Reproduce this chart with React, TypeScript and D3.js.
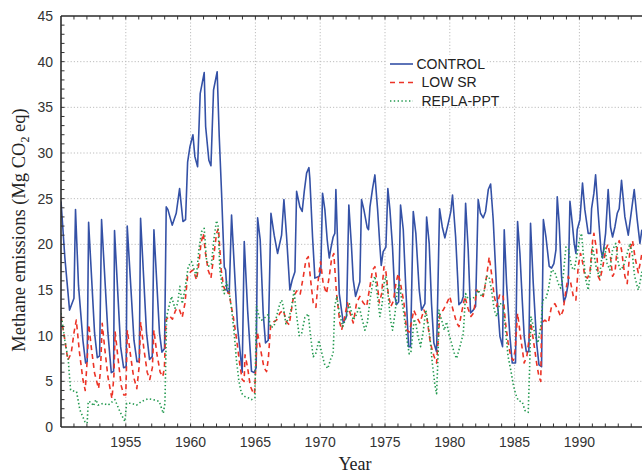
import React from 'react';
import * as d3 from 'd3';

// [year, Mg CO2 eq]
const controlSeries: [number, number][] = [
  [1950.0, 24.7], [1950.3, 18.5], [1950.66, 12.8], [1951.0, 14.1], [1951.12, 23.8], [1951.35, 15.5],
  [1951.69, 9.5], [1951.9, 7.0], [1952.02, 7.15], [1952.13, 22.4], [1952.59, 10.3], [1952.8, 7.6],
  [1952.98, 7.8], [1953.13, 22.7], [1953.62, 10.3], [1953.88, 5.95], [1954.06, 6.1], [1954.13, 21.5],
  [1954.6, 8.8], [1954.83, 6.5], [1955.03, 6.6], [1955.11, 22.0], [1955.63, 9.5], [1955.86, 7.15],
  [1956.04, 7.2], [1956.14, 22.85], [1956.6, 10.3], [1956.83, 7.4], [1957.04, 7.7], [1957.17, 21.6],
  [1957.6, 10.3], [1957.79, 8.2], [1957.99, 8.6], [1958.12, 24.1], [1958.25, 23.8], [1958.58, 22.1],
  [1958.89, 23.4], [1959.15, 26.1], [1959.41, 22.5], [1959.61, 22.7], [1959.77, 29.0], [1959.95, 30.7],
  [1960.18, 32.0], [1960.33, 29.6], [1960.54, 28.5], [1960.74, 36.5], [1961.05, 38.8], [1961.16, 32.9],
  [1961.41, 29.2], [1961.57, 28.6], [1961.77, 36.9], [1962.05, 38.9], [1962.21, 31.8], [1962.39, 25.6],
  [1962.6, 17.5], [1962.7, 17.2], [1962.8, 15.0], [1962.98, 14.6], [1963.16, 23.2], [1963.62, 11.0],
  [1963.98, 6.0], [1964.14, 20.3], [1964.4, 12.8], [1964.7, 6.1], [1964.91, 5.95], [1965.06, 6.5],
  [1965.17, 22.9], [1965.37, 20.5], [1965.6, 12.5], [1965.78, 9.2], [1965.99, 9.5], [1966.2, 23.4],
  [1966.45, 21.0], [1966.71, 19.0], [1967.02, 21.0], [1967.2, 24.9], [1967.4, 21.0], [1967.66, 15.0],
  [1967.84, 16.1], [1968.05, 17.0], [1968.18, 25.8], [1968.43, 24.1], [1968.61, 23.6], [1968.77, 25.8],
  [1968.95, 27.8], [1969.13, 28.4], [1969.2, 27.2], [1969.41, 20.8], [1969.59, 16.3], [1969.93, 16.5],
  [1970.05, 17.2], [1970.18, 25.6], [1970.36, 23.8], [1970.54, 20.5], [1970.7, 18.5], [1970.83, 19.6],
  [1971.0, 20.8], [1971.13, 21.2], [1971.21, 26.0], [1971.47, 14.6], [1971.78, 11.4], [1972.03, 12.1],
  [1972.21, 24.3], [1972.42, 19.6], [1972.55, 16.1], [1972.73, 14.3], [1973.06, 15.9], [1973.19, 24.9],
  [1973.37, 23.8], [1973.63, 21.8], [1973.73, 21.6], [1973.84, 24.1], [1974.04, 26.1], [1974.22, 27.6],
  [1974.43, 23.8], [1974.61, 19.7], [1974.71, 17.7], [1974.86, 19.2], [1975.07, 19.7], [1975.22, 26.1],
  [1975.38, 23.8], [1975.58, 19.7], [1975.76, 14.3], [1975.89, 13.4], [1976.05, 13.7], [1976.2, 24.3],
  [1976.41, 21.6], [1976.61, 15.0], [1976.82, 8.8], [1976.97, 8.8], [1977.18, 23.6], [1977.38, 21.2],
  [1977.64, 15.0], [1977.82, 12.8], [1978.08, 13.5], [1978.21, 23.0], [1978.41, 20.1], [1978.59, 13.5],
  [1978.77, 9.2], [1978.98, 8.25], [1979.21, 23.9], [1979.42, 21.9], [1979.62, 20.7], [1979.88, 22.3],
  [1980.08, 23.6], [1980.21, 25.4], [1980.45, 20.8], [1980.6, 16.5], [1980.7, 13.4], [1980.91, 13.7],
  [1981.04, 14.3], [1981.22, 24.5], [1981.42, 19.4], [1981.6, 12.5], [1981.81, 12.8], [1981.99, 13.2],
  [1982.19, 24.9], [1982.37, 23.4], [1982.58, 22.9], [1982.76, 23.6], [1982.97, 26.0], [1983.15, 26.6],
  [1983.35, 22.7], [1983.61, 15.0], [1983.87, 9.9], [1984.07, 8.8], [1984.2, 21.6], [1984.38, 15.7],
  [1984.64, 9.9], [1984.82, 7.0], [1985.07, 7.0], [1985.23, 22.5], [1985.41, 19.0], [1985.59, 13.9],
  [1985.74, 9.9], [1985.9, 8.25], [1986.1, 8.25], [1986.23, 22.3], [1986.44, 15.7], [1986.7, 9.2],
  [1986.88, 6.8], [1987.08, 6.6], [1987.22, 22.7], [1987.42, 20.8], [1987.67, 17.6], [1987.85, 17.4],
  [1988.03, 17.9], [1988.19, 19.4], [1988.29, 25.2], [1988.44, 22.3], [1988.62, 16.5], [1988.8, 13.7],
  [1988.96, 14.3], [1989.14, 15.7], [1989.27, 24.7], [1989.45, 22.3], [1989.6, 20.1], [1989.73, 19.0],
  [1989.83, 21.6], [1990.04, 22.7], [1990.24, 26.7], [1990.42, 23.8], [1990.68, 21.2], [1990.86, 21.2],
  [1990.94, 23.9], [1991.12, 25.6], [1991.25, 27.6], [1991.45, 23.4], [1991.66, 19.4], [1991.79, 18.5],
  [1992.02, 21.2], [1992.22, 26.0], [1992.4, 21.9], [1992.56, 20.8], [1992.74, 21.9], [1992.92, 23.4],
  [1993.07, 23.9], [1993.25, 27.0], [1993.51, 23.0], [1993.77, 21.0], [1994.03, 23.8], [1994.23, 26.0],
  [1994.46, 22.7], [1994.67, 20.1], [1994.82, 21.6],
];

const lowSrSeries: [number, number][] = [
  [1950.0, 12.1], [1950.3, 9.5], [1950.53, 7.3], [1950.79, 8.1], [1951.0, 10.3], [1951.18, 11.7],
  [1951.43, 8.1], [1951.69, 5.2], [1951.87, 4.0], [1952.02, 7.3], [1952.15, 11.2], [1952.33, 8.8],
  [1952.59, 5.9], [1952.9, 4.2], [1953.05, 6.2], [1953.18, 11.35], [1953.36, 8.8], [1953.62, 5.5],
  [1953.93, 3.1], [1954.08, 5.5], [1954.18, 10.4], [1954.4, 7.5], [1954.65, 4.5], [1954.85, 3.5],
  [1955.0, 3.5], [1955.12, 10.6], [1955.35, 8.0], [1955.6, 5.5], [1955.85, 4.2], [1956.02, 6.5],
  [1956.15, 11.5], [1956.4, 8.5], [1956.65, 6.0], [1956.85, 5.2], [1957.05, 6.5], [1957.17, 10.6],
  [1957.4, 8.0], [1957.65, 6.0], [1957.85, 5.5], [1957.98, 6.5], [1958.1, 11.7], [1958.35, 12.2],
  [1958.6, 11.8], [1958.85, 12.8], [1959.1, 13.0], [1959.35, 12.0], [1959.56, 13.5], [1959.77, 16.5],
  [1960.0, 17.0], [1960.2, 17.2], [1960.46, 16.1], [1960.65, 18.0], [1960.8, 20.1], [1960.98, 21.2],
  [1961.15, 19.0], [1961.35, 17.2], [1961.57, 16.3], [1961.75, 18.3], [1962.0, 21.2], [1962.15, 21.75],
  [1962.36, 17.2], [1962.54, 15.4], [1962.8, 14.6], [1962.98, 14.8], [1963.1, 13.5], [1963.28, 12.2],
  [1963.54, 9.7], [1963.8, 6.8], [1963.98, 5.2], [1964.13, 5.0], [1964.2, 7.9], [1964.4, 6.5],
  [1964.6, 4.5], [1964.78, 3.9], [1964.93, 3.6], [1965.15, 10.4], [1965.4, 8.5], [1965.66, 6.5],
  [1965.86, 6.06], [1966.0, 7.5], [1966.17, 11.0], [1966.4, 11.5], [1966.63, 11.7], [1966.9, 12.5],
  [1967.15, 12.8], [1967.4, 11.5], [1967.61, 11.2], [1967.93, 14.2], [1968.19, 14.9], [1968.45, 14.5],
  [1968.7, 16.5], [1968.9, 18.3], [1969.08, 18.65], [1969.26, 16.1], [1969.46, 13.6], [1969.67, 13.1],
  [1969.85, 16.1], [1970.03, 18.1], [1970.23, 15.7], [1970.49, 14.6], [1970.7, 16.5], [1970.88, 18.4],
  [1971.05, 19.0], [1971.26, 14.6], [1971.52, 11.4], [1971.65, 10.6], [1971.9, 12.1], [1972.1, 13.6],
  [1972.3, 12.5], [1972.55, 11.4], [1972.81, 13.6], [1973.06, 14.3], [1973.32, 13.6], [1973.58, 13.2],
  [1973.84, 15.4], [1974.04, 17.2], [1974.22, 17.55], [1974.4, 15.7], [1974.56, 13.6], [1974.74, 14.6],
  [1974.92, 17.55], [1975.07, 17.0], [1975.25, 14.6], [1975.45, 13.2], [1975.65, 13.8], [1975.84, 15.7],
  [1976.02, 16.8], [1976.2, 15.7], [1976.46, 13.6], [1976.66, 10.6], [1976.87, 10.4], [1977.05, 11.5],
  [1977.22, 12.8], [1977.43, 12.1], [1977.69, 11.4], [1978.0, 12.8], [1978.2, 12.3], [1978.5, 9.2],
  [1978.77, 7.8], [1978.98, 7.0], [1979.1, 9.5], [1979.24, 12.45], [1979.49, 12.8], [1979.75, 13.5],
  [1980.0, 14.3], [1980.25, 12.8], [1980.53, 11.4], [1980.71, 11.0], [1980.95, 12.8], [1981.17, 14.3],
  [1981.4, 13.0], [1981.63, 12.1], [1981.85, 12.5], [1982.07, 15.0], [1982.32, 14.6], [1982.58, 14.3],
  [1982.84, 16.5], [1983.04, 18.6], [1983.22, 16.8], [1983.43, 14.3], [1983.61, 13.2], [1983.87, 14.6],
  [1984.12, 14.3], [1984.3, 11.4], [1984.5, 9.2], [1984.71, 7.7], [1984.9, 7.3], [1985.05, 8.5],
  [1985.23, 12.45], [1985.45, 10.0], [1985.74, 7.0], [1985.95, 7.8], [1986.1, 9.5], [1986.26, 11.4],
  [1986.5, 9.0], [1986.7, 7.0], [1986.88, 5.5], [1987.02, 5.0], [1987.08, 11.4], [1987.34, 11.7],
  [1987.6, 11.4], [1987.85, 13.2], [1988.11, 13.5], [1988.35, 12.8], [1988.55, 12.1], [1988.75, 12.8],
  [1988.96, 15.0], [1989.14, 16.5], [1989.3, 16.0], [1989.53, 14.3], [1989.73, 13.9], [1989.91, 17.6],
  [1990.09, 19.0], [1990.25, 18.0], [1990.42, 16.5], [1990.62, 16.3], [1990.81, 16.9], [1991.02, 20.4],
  [1991.12, 21.2], [1991.33, 19.4], [1991.45, 16.5], [1991.58, 16.1], [1991.8, 17.5], [1992.03, 19.4],
  [1992.2, 20.0], [1992.4, 18.6], [1992.56, 16.5], [1992.75, 17.0], [1992.92, 19.7], [1993.07, 20.4],
  [1993.25, 19.4], [1993.51, 16.5], [1993.69, 15.7], [1993.9, 19.4], [1994.1, 20.4], [1994.3, 18.5],
  [1994.54, 16.9], [1994.7, 18.0], [1994.82, 19.0],
];

const replaPptSeries: [number, number][] = [
  [1950.0, 12.45], [1950.3, 9.5], [1950.56, 7.3], [1950.74, 4.05], [1951.07, 3.9], [1951.2, 3.87],
  [1951.46, 1.86], [1951.84, 0.6], [1952.02, 0.4], [1952.1, 2.8], [1952.35, 2.7], [1952.5, 2.3],
  [1952.69, 3.0], [1952.87, 2.4], [1953.26, 2.6], [1953.64, 2.4], [1954.16, 3.0], [1954.54, 1.7],
  [1954.93, 0.6], [1955.06, 2.6], [1955.4, 2.6], [1955.83, 2.4], [1956.22, 2.8], [1956.73, 3.1],
  [1957.11, 3.0], [1957.58, 2.8], [1957.89, 1.5], [1958.02, 2.6], [1958.15, 12.1], [1958.3, 13.0],
  [1958.53, 14.3], [1958.79, 13.0], [1959.0, 13.5], [1959.17, 15.4], [1959.35, 13.5], [1959.56, 15.0],
  [1959.82, 17.6], [1960.08, 18.1], [1960.28, 17.2], [1960.45, 16.5], [1960.64, 19.4], [1960.85, 21.4],
  [1961.05, 21.75], [1961.23, 18.3], [1961.41, 17.6], [1961.6, 17.8], [1961.82, 20.8], [1962.0, 22.6],
  [1962.12, 22.0], [1962.26, 17.2], [1962.44, 15.4], [1962.6, 14.6], [1962.77, 15.9], [1962.95, 15.0],
  [1963.15, 13.0], [1963.35, 10.5], [1963.54, 7.3], [1963.72, 5.1], [1963.92, 3.7], [1964.18, 3.35],
  [1964.44, 3.2], [1964.7, 3.0], [1964.96, 3.2], [1965.09, 13.2], [1965.3, 12.0], [1965.48, 11.7],
  [1965.75, 12.0], [1965.99, 12.3], [1966.17, 10.9], [1966.43, 11.0], [1966.63, 12.1], [1966.89, 13.5],
  [1967.02, 13.9], [1967.15, 13.2], [1967.35, 11.3], [1967.6, 12.0], [1967.8, 13.2], [1967.98, 14.9],
  [1968.15, 12.5], [1968.38, 10.0], [1968.56, 10.2], [1968.82, 12.0], [1969.08, 12.4], [1969.26, 9.9],
  [1969.46, 7.7], [1969.65, 8.0], [1969.9, 9.5], [1970.07, 8.4], [1970.33, 6.9], [1970.59, 6.4],
  [1970.84, 7.6], [1971.0, 8.0], [1971.12, 13.2], [1971.28, 14.3], [1971.48, 12.5], [1971.74, 11.0],
  [1972.0, 12.0], [1972.26, 13.5], [1972.55, 11.7], [1972.8, 12.3], [1973.01, 13.2], [1973.2, 12.0],
  [1973.45, 10.6], [1973.65, 11.5], [1973.84, 13.9], [1974.04, 15.7], [1974.22, 16.5], [1974.4, 14.6],
  [1974.6, 12.1], [1974.78, 13.5], [1974.92, 15.7], [1975.07, 16.5], [1975.25, 14.3], [1975.43, 11.7],
  [1975.58, 10.6], [1975.78, 12.5], [1975.94, 14.9], [1976.1, 15.7], [1976.28, 14.0], [1976.46, 12.4],
  [1976.66, 9.9], [1976.87, 8.0], [1977.0, 8.2], [1977.12, 9.9], [1977.25, 11.8], [1977.38, 11.3],
  [1977.56, 9.9], [1977.74, 8.8], [1977.95, 10.5], [1978.15, 12.8], [1978.3, 11.5], [1978.46, 9.9],
  [1978.66, 6.9], [1978.84, 4.7], [1978.98, 3.65], [1979.1, 8.0], [1979.16, 12.8], [1979.35, 11.8],
  [1979.58, 10.6], [1979.75, 11.5], [1979.93, 10.2], [1980.13, 9.2], [1980.34, 8.1], [1980.52, 7.5],
  [1980.78, 8.8], [1981.04, 10.2], [1981.22, 14.6], [1981.42, 14.0], [1981.7, 14.0], [1981.99, 14.3],
  [1982.19, 15.0], [1982.45, 14.3], [1982.65, 14.8], [1982.84, 16.5], [1983.02, 16.5], [1983.22, 15.0],
  [1983.43, 12.8], [1983.61, 12.1], [1983.85, 13.5], [1984.1, 13.5], [1984.3, 10.6], [1984.5, 7.7],
  [1984.71, 6.2], [1984.89, 4.7], [1985.07, 3.65], [1985.28, 2.9], [1985.59, 2.75], [1985.8, 1.8],
  [1986.05, 1.6], [1986.15, 6.0], [1986.26, 12.1], [1986.45, 11.0], [1986.6, 9.9], [1986.8, 9.2],
  [1987.05, 11.3], [1987.16, 13.9], [1987.4, 14.0], [1987.6, 15.0], [1987.85, 17.2], [1988.1, 17.0],
  [1988.37, 15.7], [1988.55, 15.2], [1988.75, 16.5], [1988.96, 19.7], [1989.15, 19.5], [1989.4, 17.5],
  [1989.6, 17.2], [1989.78, 18.6], [1989.99, 20.4], [1990.17, 21.2], [1990.32, 18.5], [1990.5, 16.1],
  [1990.68, 15.0], [1990.85, 17.0], [1991.02, 19.7], [1991.15, 18.7], [1991.33, 17.2], [1991.55, 16.5],
  [1991.75, 18.8], [1991.96, 19.7], [1992.14, 17.9], [1992.35, 17.2], [1992.56, 19.4], [1992.81, 20.1],
  [1993.0, 17.9], [1993.17, 17.2], [1993.4, 17.6], [1993.69, 19.0], [1993.9, 20.1], [1994.08, 19.0],
  [1994.26, 16.5], [1994.54, 15.0], [1994.7, 16.0], [1994.82, 17.0],
];

const xTickYears = [1955, 1960, 1965, 1970, 1975, 1980, 1985, 1990];
const yTickValues = [0, 5, 10, 15, 20, 25, 30, 35, 40, 45];
const legendLabels = ['CONTROL', 'LOW SR', 'REPLA-PPT'];

const W = 642;
const H = 473;
const LEFT = 61;
const TOP = 16;
const BOTTOM = 427;
const RIGHT = 644.2;

const BLUE = '#3451a6';
const RED = '#ec3326';
const GREEN = '#22994f';
const SANS = '"Liberation Sans", Arial, sans-serif';
const SERIF = '"Liberation Serif", "Times New Roman", serif';

export default function App() {
  const x = d3.scaleLinear().domain([1950, 1995]).range([LEFT, RIGHT]);
  const y = d3.scaleLinear().domain([0, 45]).range([BOTTOM, TOP]);
  const line = d3
    .line<[number, number]>()
    .x((d) => x(d[0]))
    .y((d) => y(d[1]));

  const minorYears = d3.range(1951, 1995);
  const minorVals = d3.range(1, 45);

  const series = [
    { data: controlSeries, color: BLUE, dash: undefined as string | undefined, width: 1.6 },
    { data: lowSrSeries, color: RED, dash: '5,4', width: 1.6 },
    { data: replaPptSeries, color: GREEN, dash: '1.4,2.4', width: 1.6 },
  ];

  return (
    <svg
      width={W}
      height={H}
      style={{ position: 'absolute', left: 0, top: 0, background: '#fff' }}
    >
      <defs>
        <clipPath id="plotclip">
          <rect x={LEFT} y={TOP} width={RIGHT - LEFT} height={BOTTOM - TOP} />
        </clipPath>
      </defs>
      <rect x={0} y={0} width={W} height={H} fill="#fff" />

      {/* grid */}
      <g stroke="#bdbdbd" strokeWidth={1} strokeDasharray="1.2,2">
        {xTickYears.map((yr) => (
          <line key={'gx' + yr} x1={x(yr)} x2={x(yr)} y1={TOP} y2={BOTTOM} />
        ))}
        {yTickValues
          .filter((v) => v > 0 && v < 45)
          .map((v) => (
            <line key={'gy' + v} x1={LEFT} x2={RIGHT} y1={y(v)} y2={y(v)} />
          ))}
      </g>

      {/* series */}
      <g clipPath="url(#plotclip)" fill="none">
        {series.map((s, i) => (
          <path
            key={i}
            d={line(s.data) || ''}
            stroke={s.color}
            strokeWidth={s.width}
            strokeDasharray={s.dash}
            strokeLinejoin="round"
          />
        ))}
      </g>

      {/* legend */}
      <rect x={387} y={55} width={100} height={51} fill="#fff" />
      {legendLabels.map((lab, i) => {
        const ly = [64, 82.5, 101][i];
        const tx = i === 0 ? 416.5 : 421.5;
        const s = series[i];
        return (
          <g key={lab}>
            <line
              x1={390}
              x2={413}
              y1={ly}
              y2={ly}
              stroke={s.color}
              strokeWidth={1.6}
              strokeDasharray={s.dash}
            />
            <text
              x={tx}
              y={ly + 4.8}
              fontFamily={SANS}
              fontSize={14}
              fill="#222"
            >
              {lab}
            </text>
          </g>
        );
      })}

      {/* ticks */}
      <g stroke="#333" strokeWidth={1}>
        {minorYears.map((yr) => (
          <g key={'tx' + yr}>
            <line x1={x(yr)} x2={x(yr)} y1={BOTTOM} y2={BOTTOM - 3.5} />
            <line x1={x(yr)} x2={x(yr)} y1={TOP} y2={TOP + 3.5} />
          </g>
        ))}
        {minorVals.map((v) => (
          <line key={'ty' + v} x1={LEFT} x2={LEFT + 3.5} y1={y(v)} y2={y(v)} />
        ))}
      </g>

      {/* axes frame */}
      <g stroke="#2a2a2a" strokeWidth={1.6} fill="none">
        <line x1={LEFT} x2={LEFT} y1={TOP} y2={BOTTOM} />
        <line x1={LEFT} x2={RIGHT} y1={BOTTOM} y2={BOTTOM} />
        <line x1={LEFT} x2={RIGHT} y1={TOP} y2={TOP} />
      </g>

      {/* tick labels */}
      <g fontFamily={SANS} fontSize={14} fill="#333">
        {xTickYears.map((yr) => (
          <text key={'lx' + yr} x={x(yr)} y={446.5} textAnchor="middle">
            {yr}
          </text>
        ))}
        {yTickValues.map((v) => (
          <text key={'ly' + v} x={53} y={y(v) + 5} textAnchor="end">
            {v}
          </text>
        ))}
      </g>

      {/* axis titles */}
      <text
        x={355}
        y={470}
        textAnchor="middle"
        fontFamily={SERIF}
        fontSize={18}
        fill="#222"
      >
        Year
      </text>
      <text
        transform="translate(25,230) rotate(-90)"
        textAnchor="middle"
        fontFamily={SERIF}
        fontSize={18.5}
        fill="#222"
      >
        Methane emissions (Mg CO
        <tspan fontSize={12} dy={4}>
          2
        </tspan>
        <tspan dy={-4}> eq)</tspan>
      </text>
    </svg>
  );
}
